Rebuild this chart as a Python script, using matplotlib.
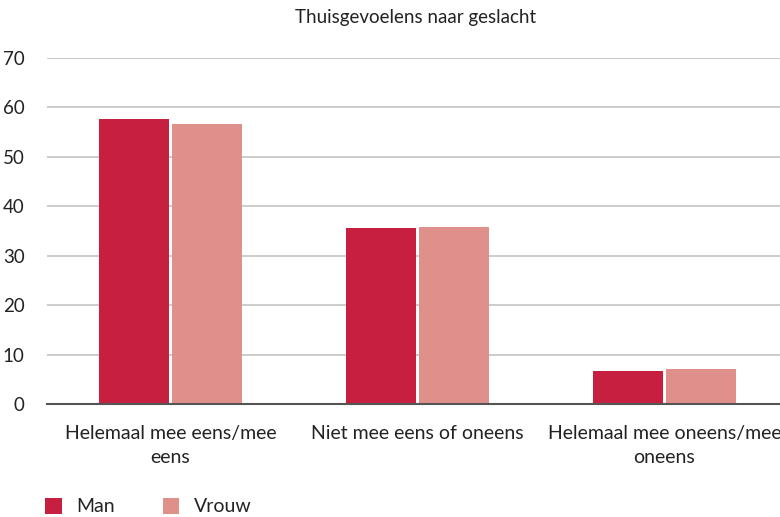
import matplotlib
matplotlib.use("Agg")
import matplotlib.pyplot as plt
import numpy as np

categories = ["Helemaal mee eens/mee\neens", "Niet mee eens of oneens", "Helemaal mee oneens/mee\noneens"]
series_names = ["Man", "Vrouw"]
man = [57.6, 35.6, 6.6]
vrouw = [56.7, 35.8, 7.1]
yticks = [0, 10, 20, 30, 40, 50, 60, 70]
colors = ["#C61F3F", "#E0908A"]

plt.rcParams['font.family'] = ['Lato', 'DejaVu Sans']

fig = plt.figure(figsize=(7.8, 5.17), dpi=100)
W, H = 780, 517
ax = fig.add_axes([47 / W, 1 - 404 / H, 741 / W, (404 - 58) / H])

x = np.arange(len(categories))
bw = 0.283
off = bw / 2 + 0.006
ax.bar(x - off, man, bw, color=colors[0], label=series_names[0], zorder=3)
ax.bar(x + off, vrouw, bw, color=colors[1], label=series_names[1], zorder=3)

ax.set_xlim(-0.5, 2.5)
ax.set_ylim(0, 70)
ax.set_yticks(yticks)
ax.set_yticklabels([str(t) for t in yticks], fontsize=13.5, color="#222222")
ax.yaxis.grid(True, color="#c4c4c4", linewidth=1.2, zorder=0)
ax.set_axisbelow(True)
for s in ["top", "right", "left"]:
    ax.spines[s].set_visible(False)
ax.spines["bottom"].set_color("#555555")
ax.spines["bottom"].set_linewidth(1.5)
ax.spines["bottom"].set_zorder(4)
ax.tick_params(axis="y", length=0, pad=16)
ax.tick_params(axis="x", length=0, pad=15)
ax.set_xticks(x)
ax.set_xticklabels(categories, fontsize=14, color="#222222", linespacing=1.5)

fig.text(416 / W, 1 - 18 / H, "Thuisgevoelens naar geslacht", ha="center", va="center",
         fontsize=13.5, color="#222222")

leg = fig.legend(loc="lower left", bbox_to_anchor=(28 / W, -16 / H), ncol=2, frameon=False,
                 fontsize=14, handlelength=0.85, handleheight=0.85, handletextpad=0.75,
                 columnspacing=2.45, labelcolor="#222222")

fig.savefig("out.png", dpi=100)
